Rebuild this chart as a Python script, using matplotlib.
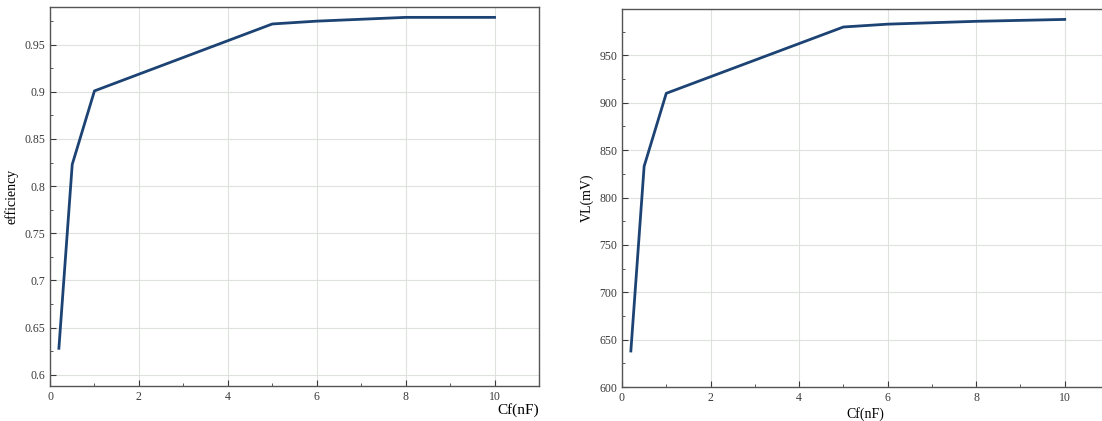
import matplotlib
matplotlib.use('Agg')
import matplotlib.pyplot as plt
from matplotlib.ticker import MultipleLocator

# data
cf = [0.2, 0.5, 1, 5, 6, 8, 10]
efficiency = [0.628, 0.823, 0.901, 0.972, 0.975, 0.979, 0.979]
vl = [638, 833, 910, 980, 983, 986, 988]

plt.rcParams['font.family'] = ['Liberation Serif', 'DejaVu Serif']

fig = plt.figure(figsize=(11.02, 4.21), dpi=100)
ax1 = fig.add_axes([50 / 1102, 35 / 421, 489 / 1102, 379 / 421])
ax2 = fig.add_axes([622 / 1102, 34 / 421, 487 / 1102, 378 / 421])

line_color = '#1c4373'
grid_color = '#dde2dd'


def style(ax, ylim, ymaj, ymin):
    ax.set_xlim(0, 11)
    ax.set_ylim(*ylim)
    ax.xaxis.set_major_locator(MultipleLocator(2))
    ax.xaxis.set_minor_locator(MultipleLocator(1))
    ax.yaxis.set_major_locator(MultipleLocator(ymaj))
    ax.yaxis.set_minor_locator(MultipleLocator(ymin))
    ax.tick_params(which='both', direction='in', top=False, right=False,
                   labelsize=8.5, colors='#3a3a3a')
    ax.tick_params(which='major', length=4)
    ax.tick_params(which='minor', length=2.5)
    ax.grid(True, which='major', color=grid_color, linewidth=0.8)
    ax.set_axisbelow(True)
    for s in ax.spines.values():
        s.set_color('#555555')
        s.set_linewidth(1.0)


ax1.plot(cf, efficiency, color=line_color, linewidth=2)
style(ax1, (0.588, 0.99), 0.05, 0.025)
ax1.set_ylabel('efficiency', fontsize=10, labelpad=4)
ax1.set_xlabel('Cf(nF)', fontsize=11, loc='right', labelpad=0)
ax1.yaxis.set_major_formatter(plt.FuncFormatter(lambda v, p: ('%g' % round(v, 3))))
for gl in ax1.get_ygridlines():
    if abs(gl.get_ydata()[0] - 0.9) < 1e-6:
        gl.set_color('#b8d4b0')

ax2.plot(cf, vl, color=line_color, linewidth=2)
style(ax2, (600, 999), 50, 25)
ax2.set_ylabel('VL(mV)', fontsize=10, labelpad=4)
ax2.set_xlabel('Cf(nF)', fontsize=10, labelpad=2)
for gl in ax2.get_ygridlines():
    if abs(gl.get_ydata()[0] - 800) < 1e-6:
        gl.set_color('#b8d4b0')

fig.savefig('out.png', dpi=100)
